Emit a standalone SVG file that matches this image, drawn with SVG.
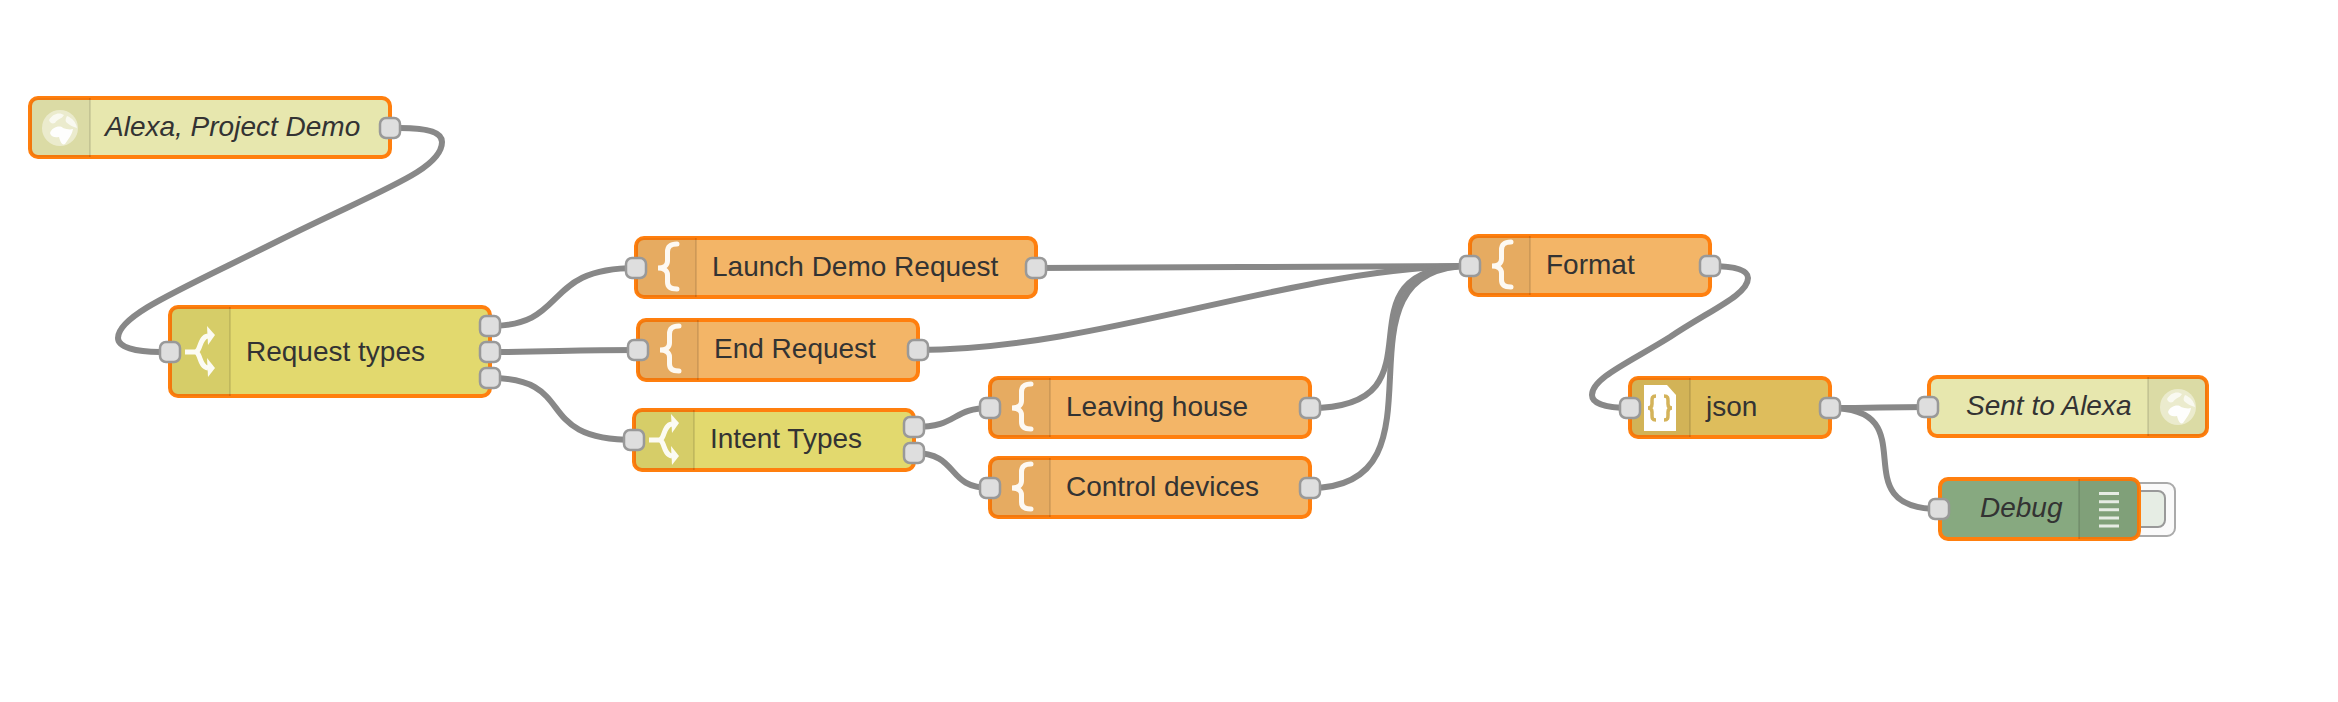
<svg xmlns="http://www.w3.org/2000/svg" xmlns:xlink="http://www.w3.org/1999/xlink" width="2338" height="702" viewBox="0 0 2338 702">
<style>
text{font-family:"Liberation Sans",Arial,sans-serif;font-size:28px;fill:#333}
.i{font-style:italic}
.n{stroke:#ff7f0e;stroke-width:4}
.s{fill:#000;fill-opacity:.05;stroke:none}
.d{stroke:#000;stroke-opacity:.1;stroke-width:2}
.p{fill:#dedede;stroke:#999;stroke-width:2.500}
.w{fill:none;stroke:#888;stroke-width:6}
</style>
<defs>
<path id="brace" d="M41-24C35-24 31.500-22 31.500-16V-7C31.500-2 27 0 22 0C27 0 31.500 2 31.500 7V14C31.500 19 35 21 41 21" fill="none" stroke="#fff" stroke-opacity=".92" stroke-width="5" stroke-linecap="round"/>
<g id="sw" fill="#fff" fill-opacity=".92"><path d="M15 0H25C31 0 29-15 38-16M25 0C31 0 29 15 38 16" fill="none" stroke="#fff" stroke-opacity=".92" stroke-width="5"/><path d="M37-26L45-17L38-7z"/><path d="M37 6L45 16L38 25z"/></g>
<g id="globe" fill="#fff"><circle r="18" fill-opacity=".45"/><path d="M-10 5C-8-1 0-3 3 0C6 1 10 2 13 1C12 7 9 10 5 16C2 18 0 13-1 9C-5 10-9 9-10 5z" fill-opacity=".95"/><path d="M-11-8C-7-15 0-16 4-13C2-9-3-9-5-5C-8-4-10-5-11-8z" fill-opacity=".7"/><path d="M7-12C12-10 16-6 17 0C13-1 9-3 6-6C5-8 6-10 7-12z" fill-opacity=".7"/></g>
</defs>
<rect width="2338" height="702" fill="#fff"/>
<g id="connectors">
<path class="w" d="M400 128C430 128 442 133 442 142C442 170 380 190 280 240C180 290 118 315 118 338C118 347 135 352 160 352"/>
<path class="w" d="M490 326C570 326 540 268 636 268"/>
<path class="w" d="M490 352C550 352 570 350 638 350"/>
<path class="w" d="M490 378C580 378 530 440 634 440"/>
<path class="w" d="M914 427C960 427 950 408 990 408"/>
<path class="w" d="M914 453C960 453 945 488 990 488"/>
<path class="w" d="M1036 268C1200 268 1300 266 1470 266"/>
<path class="w" d="M918 350C1100 350 1300 266 1470 266"/>
<path class="w" d="M1310 408C1455 408 1325 266 1470 266"/>
<path class="w" d="M1310 488C1460 488 1320 266 1470 266"/>
<path class="w" d="M1710 266C1735 266 1748 270 1748 278C1748 295 1710 310 1670 337C1630 362 1592 378 1592 395C1592 403 1605 408 1630 408"/>
<path class="w" d="M1830 408C1880 408 1880 407 1928 407"/>
<path class="w" d="M1830 408C1930 408 1839 509 1939 509"/>
</g>
<g id="n1"><rect class="n" x="30" y="98" width="360" height="59" rx="8" fill="#e7e7ae"/><path class="s" d="M38 98H90V157H38a8 8 0 0 1-8-8V106a8 8 0 0 1 8-8z"/><path class="d" d="M90 98V157"/><use xlink:href="#globe" href="#globe" x="60" y="128"/><text class="i" x="105" y="136">Alexa, Project Demo</text><rect class="p" x="380" y="118" width="20" height="20" rx="6"/></g>
<g id="n2"><rect class="n" x="170" y="307" width="320" height="89" rx="8" fill="#e2d96e"/><path class="s" d="M178 307H230V396H178a8 8 0 0 1-8-8V315a8 8 0 0 1 8-8z"/><path class="d" d="M230 307V396"/><use xlink:href="#sw" href="#sw" x="170" y="352"/><text x="246" y="361">Request types</text><rect class="p" x="160" y="342" width="20" height="20" rx="6"/><rect class="p" x="480" y="316" width="20" height="20" rx="6"/><rect class="p" x="480" y="342" width="20" height="20" rx="6"/><rect class="p" x="480" y="368" width="20" height="20" rx="6"/></g>
<g id="n3"><rect class="n" x="636" y="238" width="400" height="59" rx="8" fill="#f3b567"/><path class="s" d="M644 238H696V297H644a8 8 0 0 1-8-8V246a8 8 0 0 1 8-8z"/><path class="d" d="M696 238V297"/><use xlink:href="#brace" href="#brace" x="636" y="268"/><text x="712" y="276">Launch Demo Request</text><rect class="p" x="626" y="258" width="20" height="20" rx="6"/><rect class="p" x="1026" y="258" width="20" height="20" rx="6"/></g>
<g id="n4"><rect class="n" x="638" y="320" width="280" height="60" rx="8" fill="#f3b567"/><path class="s" d="M646 320H698V380H646a8 8 0 0 1-8-8V328a8 8 0 0 1 8-8z"/><path class="d" d="M698 320V380"/><use xlink:href="#brace" href="#brace" x="638" y="350"/><text x="714" y="358">End Request</text><rect class="p" x="628" y="340" width="20" height="20" rx="6"/><rect class="p" x="908" y="340" width="20" height="20" rx="6"/></g>
<g id="n5"><rect class="n" x="634" y="410" width="280" height="60" rx="8" fill="#e2d96e"/><path class="s" d="M642 410H694V470H642a8 8 0 0 1-8-8V418a8 8 0 0 1 8-8z"/><path class="d" d="M694 410V470"/><use xlink:href="#sw" href="#sw" x="634" y="440"/><text x="710" y="448">Intent Types</text><rect class="p" x="624" y="430" width="20" height="20" rx="6"/><rect class="p" x="904" y="417" width="20" height="20" rx="6"/><rect class="p" x="904" y="443" width="20" height="20" rx="6"/></g>
<g id="n6"><rect class="n" x="990" y="378" width="320" height="59" rx="8" fill="#f3b567"/><path class="s" d="M998 378H1050V437H998a8 8 0 0 1-8-8V386a8 8 0 0 1 8-8z"/><path class="d" d="M1050 378V437"/><use xlink:href="#brace" href="#brace" x="990" y="408"/><text x="1066" y="416">Leaving house</text><rect class="p" x="980" y="398" width="20" height="20" rx="6"/><rect class="p" x="1300" y="398" width="20" height="20" rx="6"/></g>
<g id="n7"><rect class="n" x="990" y="458" width="320" height="59" rx="8" fill="#f3b567"/><path class="s" d="M998 458H1050V517H998a8 8 0 0 1-8-8V466a8 8 0 0 1 8-8z"/><path class="d" d="M1050 458V517"/><use xlink:href="#brace" href="#brace" x="990" y="488"/><text x="1066" y="496">Control devices</text><rect class="p" x="980" y="478" width="20" height="20" rx="6"/><rect class="p" x="1300" y="478" width="20" height="20" rx="6"/></g>
<g id="n8"><rect class="n" x="1470" y="236" width="240" height="59" rx="8" fill="#f3b567"/><path class="s" d="M1478 236H1530V295H1478a8 8 0 0 1-8-8V244a8 8 0 0 1 8-8z"/><path class="d" d="M1530 236V295"/><use xlink:href="#brace" href="#brace" x="1470" y="266"/><text x="1546" y="274">Format</text><rect class="p" x="1460" y="256" width="20" height="20" rx="6"/><rect class="p" x="1700" y="256" width="20" height="20" rx="6"/></g>
<g id="n9"><rect class="n" x="1630" y="378" width="200" height="59" rx="8" fill="#debd5c"/><path class="s" d="M1638 378H1690V437H1638a8 8 0 0 1-8-8V386a8 8 0 0 1 8-8z"/><path class="d" d="M1690 378V437"/><path d="M1644 385H1667L1676 395V431H1644z" fill="#fff"/><path d="M1656 396C1652 396 1652 398 1652 401V404C1652 407 1650 408 1648 408C1650 408 1652 409 1652 412V415C1652 418 1652 420 1656 420M1664 396C1668 396 1668 398 1668 401V404C1668 407 1670 408 1672 408C1670 408 1668 409 1668 412V415C1668 418 1668 420 1664 420" fill="none" stroke="#d4b35a" stroke-width="3.500"/><text x="1706" y="416">json</text><rect class="p" x="1620" y="398" width="20" height="20" rx="6"/><rect class="p" x="1820" y="398" width="20" height="20" rx="6"/></g>
<g id="n10"><rect class="n" x="1929" y="377" width="278" height="59" rx="8" fill="#e7e7ae"/><path class="s" d="M2148 377H2199a8 8 0 0 1 8 8V428a8 8 0 0 1-8 8H2148z"/><path class="d" d="M2148 377V436"/><use xlink:href="#globe" href="#globe" x="2178" y="407"/><text class="i" x="1966" y="415">Sent to Alexa</text><rect class="p" x="1918" y="397" width="20" height="20" rx="6"/></g>
<g id="n11"><rect x="2120" y="483" width="55" height="53" rx="8" fill="#fafafa" stroke="#aaa" stroke-width="2"/><rect x="2120" y="491" width="45" height="36" rx="7" fill="#e6ede4" stroke="#999" stroke-width="2"/><rect class="n" x="1940" y="479" width="199" height="60" rx="8" fill="#87a980"/><path class="s" d="M2079 479H2131a8 8 0 0 1 8 8V531a8 8 0 0 1-8 8H2079z"/><path class="d" d="M2079 479V539"/><path d="M2099 493.500H2119M2099 501.700H2119M2099 509.800H2119M2099 518H2119M2099 526H2119" stroke="#fff" stroke-opacity=".8" stroke-width="3"/><text class="i" x="1980" y="517">Debug</text><rect class="p" x="1929" y="499" width="20" height="20" rx="6"/></g>
</svg>
